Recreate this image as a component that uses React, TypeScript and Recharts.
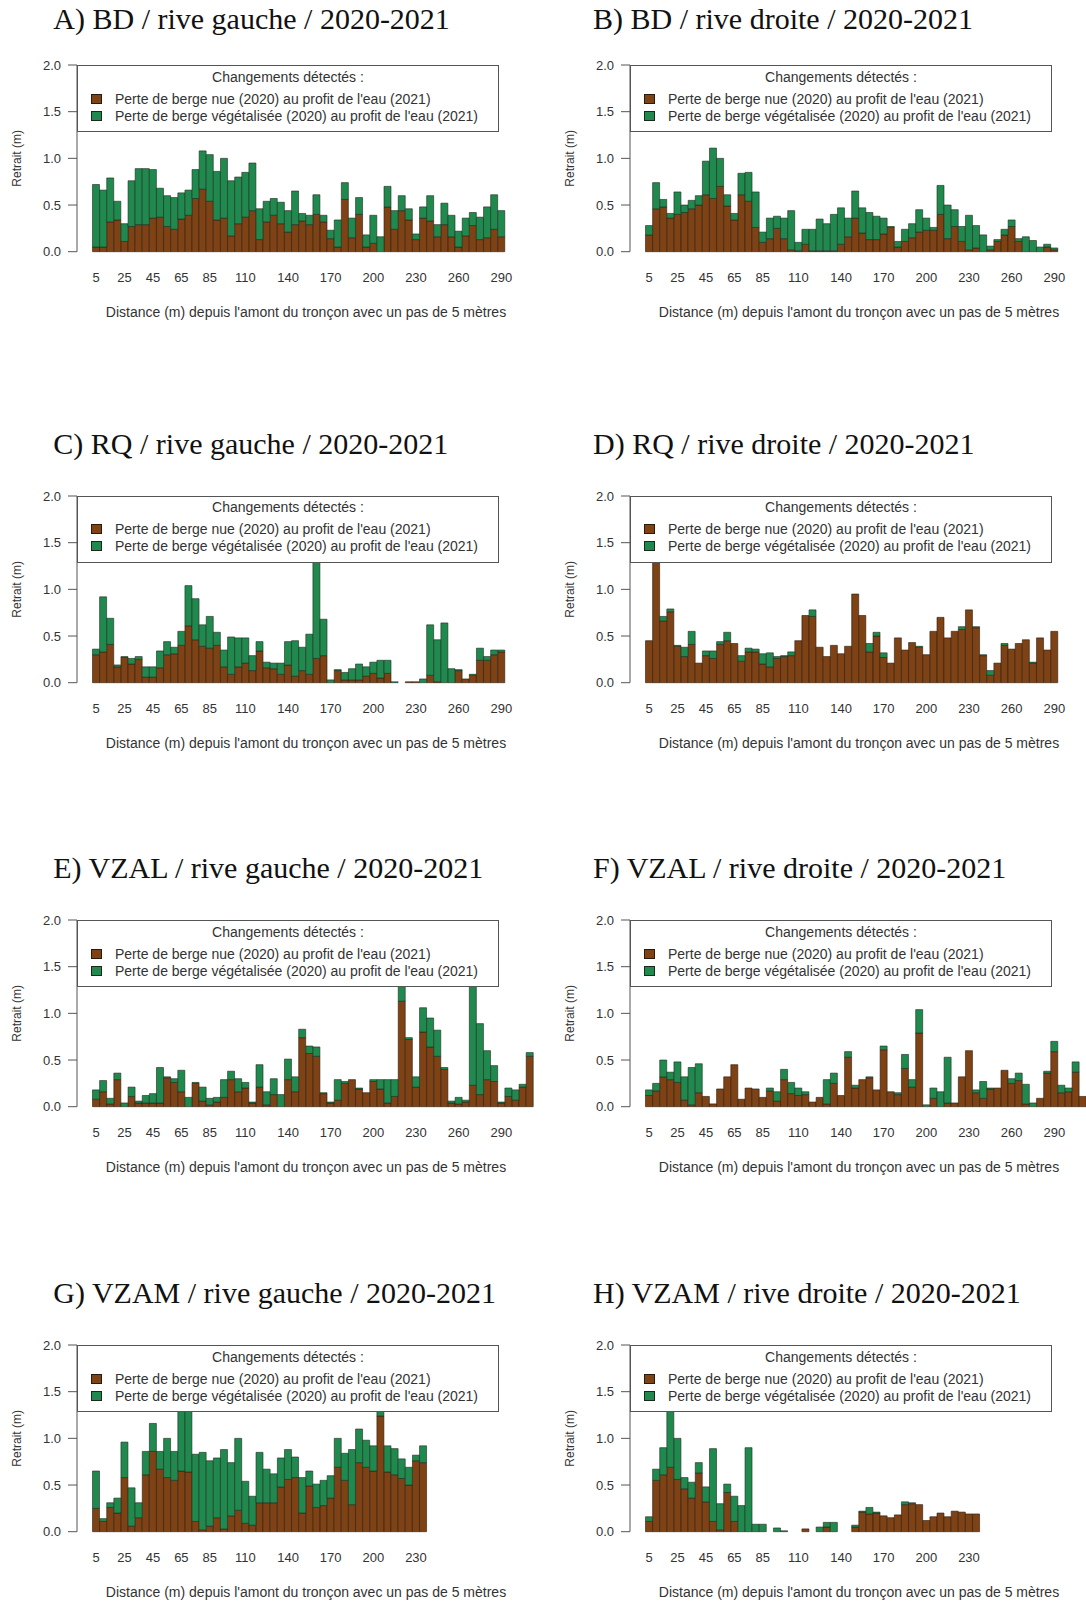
import React from 'react';
import { BarChart, Bar, XAxis, YAxis, Legend, Label } from 'recharts';

// Distance categories (m), step 5
const DIST = [5, 10, 15, 20, 25, 30, 35, 40, 45, 50, 55, 60, 65, 70, 75, 80, 85, 90, 95, 100,
  105, 110, 115, 120, 125, 130, 135, 140, 145, 150, 155, 160, 165, 170, 175, 180, 185, 190, 195, 200,
  205, 210, 215, 220, 225, 230, 235, 240, 245, 250, 255, 260, 265, 270, 275, 280, 285, 290, 295, 300,
  305, 310];

const TICKS_290 = [5, 25, 45, 65, 85, 110, 140, 170, 200, 230, 260, 290];
const TICKS_230 = [5, 25, 45, 65, 85, 110, 140, 170, 200, 230];
const Y_TICKS = [0, 0.5, 1, 1.5, 2];

// A) BD rive gauche
const A_NUE = [.05, .05, .32, .34, .11, .27, .29, .29, .36, .37, .27, .24, .35, .39, .57, .67, .54, .34, .36, .17, .30, .37, .44, .13, .32, .39, .30, .21, .29, .33, .29, .40, .32, .14, .05, .56, .15, .40, .05, .09, 0, .48, .24, .44, .34, .13, .36, .33, .16, .29, .16, .05, .17, .28, .13, .15, .24, .16];
const A_VEG = [.67, .61, .47, .20, .19, .49, .60, .60, .52, .31, .33, .34, .28, .27, .31, .41, .50, .52, .64, .59, .50, .48, .51, .33, .22, .18, .23, .23, .36, .08, .10, .21, .07, .09, .29, .18, .21, .18, .13, .30, .16, .22, .20, .16, .12, .06, .12, .27, .13, .23, .23, .17, .19, .14, .24, .33, .37, .28];
// B) BD rive droite
const B_NUE = [.18, .46, .48, .36, .40, .42, .46, .50, .61, .57, .70, .49, .34, .61, .54, .26, .10, .14, .25, .14, .02, .01, .08, .01, .01, .01, .01, .08, .16, .36, .20, .13, .13, .19, .26, .05, .11, .15, .21, .23, .23, .40, .14, .27, .11, .02, .04, 0, .02, .11, .18, .27, .11, 0, 0, 0, .05, .02];
const B_VEG = [.10, .28, .08, .05, .24, .08, .09, .10, .36, .54, .30, .12, .07, .23, .31, .38, .11, .22, .13, .22, .42, .09, .16, .23, .34, .29, .39, .39, .20, .29, .27, .29, .25, .17, .01, .06, .13, .15, .24, .13, .03, .31, .36, .18, .16, .37, .24, .18, .04, .02, .06, .07, .03, .16, .12, .05, .03, .02];
// C) RQ rive gauche
const C_NUE = [.30, .33, .41, .17, .27, .20, .25, .06, .06, .16, .30, .31, .40, .61, .46, .39, .37, .40, .17, .09, .17, .21, .13, .34, .16, .15, .09, .19, .07, .13, .09, .26, .29, 0, .13, .03, .03, .03, .07, .10, .05, .10, 0, 0, .01, .01, 0, .08, .01, 0, 0, .13, .04, .08, .24, .24, .30, .33];
const C_VEG = [.06, .59, .28, .02, .01, .06, .03, .11, .11, .18, .14, .07, .15, .43, .44, .23, .34, .14, .18, .40, .31, .27, .16, .10, .06, .06, .12, .25, .38, .25, .43, 1.34, .39, .03, .01, .08, .12, .17, .10, .12, .19, .14, .01, 0, 0, 0, .04, .54, .45, .64, .15, .01, 0, .01, .13, .04, .05, .02];
// D) RQ rive droite
const D_NUE = [.45, 1.55, .66, .76, .39, .28, .41, .21, .29, .26, .41, .45, .42, .23, .33, .33, .20, .17, .26, .28, .29, .45, .72, .71, .38, .28, .40, .31, .39, .95, .72, .33, .50, .27, .21, .48, .35, .43, .38, .30, .55, .70, .48, .55, .57, .78, .59, .29, .08, .21, .40, .36, .42, .46, .21, .48, .35, .55];
const D_VEG = [0, 0, .05, .03, .01, .10, .14, 0, .05, .08, .03, .09, 0, .06, .04, .03, .11, .15, .02, .01, .04, 0, 0, .07, 0, 0, 0, 0, 0, 0, 0, .09, .04, .05, 0, 0, 0, 0, .01, 0, 0, 0, 0, 0, .03, 0, .01, .01, .05, 0, .02, 0, 0, 0, .01, 0, 0, 0];
// E) VZAL rive gauche
const E_NUE = [.08, .16, .03, .29, 0, .11, .04, .04, .04, .04, .31, .26, .16, 0, .25, .06, .02, .05, .10, .29, .16, .20, .04, .21, .02, .13, 0, .29, .16, .74, .57, .54, .14, .04, .07, .25, .29, .19, .15, .27, .19, .04, .11, 1.13, .72, .21, .80, .64, .54, .40, .04, .03, .05, .23, .13, .29, .27, .04, .11, .07, .21, .54];
const E_VEG = [.10, .12, .06, .07, .04, .10, .02, .08, .10, .38, .01, .04, .23, .10, .01, .15, .07, .05, .19, .09, .14, .06, .01, .24, .14, .17, .13, .22, .16, .09, .08, .10, .01, .01, .22, .02, 0, .01, 0, .02, .10, .25, .18, .22, .02, .11, .26, .31, .28, .02, .02, .07, .02, 1.27, .76, .31, .17, .01, .09, .11, .03, .04];
// F) VZAL rive droite
const F_NUE = [.12, .17, .32, .29, .26, .07, .02, .15, .11, .03, .19, .32, .45, .08, .20, .19, .10, .17, .06, .29, .14, .12, .13, .05, .10, .03, .25, .12, .53, .20, .29, .31, .18, .61, .16, .13, .41, .21, .79, 0, .09, 0, .04, .04, .32, .60, .15, .09, .19, .20, .39, .25, .28, .03, 0, .09, .36, .59, .15, .16, .37, .11];
const F_VEG = [.06, .08, .18, .08, .22, .25, .40, .31, 0, 0, 0, 0, 0, 0, 0, 0, 0, .03, .10, .11, .12, .08, .03, 0, 0, .26, .11, 0, .06, .03, 0, .01, 0, .04, 0, .02, .15, .08, .25, .02, .11, .16, .49, 0, 0, 0, .03, .18, .01, 0, 0, .05, .08, .21, .04, 0, .02, .11, .08, .04, .11, 0];
// G) VZAM rive gauche
const G_NUE = [.25, .11, .26, .20, .58, .06, .15, .61, .86, .67, .58, .55, .65, .64, .11, .02, .06, .15, .03, .17, .23, .09, .07, .31, .31, .31, .48, .56, .58, .20, .49, .26, .28, .36, .69, .55, .29, .74, .69, .65, 1.24, .64, .61, .57, .50, .76, .74];
const G_VEG = [.40, .03, .05, .16, .38, .41, .16, .25, .30, .19, .42, .31, .80, .86, .72, .83, .70, .64, .85, .57, .77, .45, .31, .54, .36, .31, .31, .32, .22, .38, .16, .25, .27, .24, .31, .29, .59, .36, .29, .27, .11, .28, .28, .21, .19, .06, .18];
// H) VZAM rive droite
const H_NUE = [.11, .55, .61, .69, .56, .46, .36, .63, .32, .11, .02, .42, .11, 0, 0, 0, 0, 0, 0, 0, 0, 0, .03, 0, 0, .05, 0, 0, 0, .05, .21, .19, .20, .17, .15, .18, .29, .30, .29, .12, .16, .20, .16, .22, .21, .19, .19];
const H_VEG = [.05, .12, .29, .71, .44, .12, .17, .11, .16, .78, .28, .09, .27, .28, .90, .08, .08, 0, .04, .01, 0, 0, 0, 0, .05, .05, .10, 0, 0, .02, .01, .07, .01, 0, 0, 0, .03, .01, 0, 0, 0, 0, 0, 0, 0, 0, 0];

const TITLES = [
  'A) BD / rive gauche / 2020-2021', 'B) BD / rive droite / 2020-2021',
  'C) RQ / rive gauche / 2020-2021', 'D) RQ / rive droite / 2020-2021',
  'E) VZAL / rive gauche / 2020-2021', 'F) VZAL / rive droite / 2020-2021',
  'G) VZAM / rive gauche / 2020-2021', 'H) VZAM / rive droite / 2020-2021',
];

const LEGEND_TITLE = 'Changements détectés :';
const LEGEND_NUE = "Perte de berge nue (2020) au profit de l'eau (2021)";
const LEGEND_VEG = "Perte de berge végétalisée (2020) au profit de l'eau (2021)";
const Y_LABEL = 'Retrait (m)';
const X_LABEL = "Distance (m) depuis l'amont du tronçon avec un pas de 5 mètres";

const BROWN = '#7e4215';
const GREEN = '#208a4e';
const SANS = '"Liberation Sans", Arial, sans-serif';
const SERIF = '"Liberation Serif", "Times New Roman", serif';

// layout
const COL_X = [0, 553];
const ROW_Y = [0, 430.6, 855.3, 1280];
const TITLE_BASE = [28.8, 454.2, 878.6, 1303];
const TITLE_X = [53.3, 593];
const CHART_W = 535;
const CHART_H = 330;
const AXIS_X = 77;
const PLOT_TOP = 65;
const PLOT_BOTTOM = 251.7;
const X_AXIS_H = 40;
const PLOT_W = CHART_W - AXIS_X;
const PAD_L = 15.5;
const BAR_W = 7.11;
const TITLE_FS = 30;

const PANELS = [
  { nue: A_NUE, veg: A_VEG, ticks: TICKS_290 },
  { nue: B_NUE, veg: B_VEG, ticks: TICKS_290 },
  { nue: C_NUE, veg: C_VEG, ticks: TICKS_290 },
  { nue: D_NUE, veg: D_VEG, ticks: TICKS_290 },
  { nue: E_NUE, veg: E_VEG, ticks: TICKS_290 },
  { nue: F_NUE, veg: F_VEG, ticks: TICKS_290 },
  { nue: G_NUE, veg: G_VEG, ticks: TICKS_230 },
  { nue: H_NUE, veg: H_VEG, ticks: TICKS_230 },
];

const LegendBox = () => (
  <div style={{
    boxSizing: 'border-box', width: 422, height: 67, border: '1px solid #555', background: '#fff',
    position: 'relative', fontFamily: SANS, fontSize: 14, color: '#333', lineHeight: '17px', whiteSpace: 'nowrap',
  }}>
    <div style={{ position: 'absolute', left: 0, right: 0, top: 2.5, textAlign: 'center' }}>{LEGEND_TITLE}</div>
    <div style={{ position: 'absolute', left: 12.5, top: 27.5, width: 11, height: 10, background: BROWN, boxSizing: 'border-box', border: '1px solid #2a1a0c' }} />
    <div style={{ position: 'absolute', left: 37, top: 24.5 }}>{LEGEND_NUE}</div>
    <div style={{ position: 'absolute', left: 12.5, top: 44.5, width: 11, height: 10, background: GREEN, boxSizing: 'border-box', border: '1px solid #1a2a1a' }} />
    <div style={{ position: 'absolute', left: 37, top: 41.5 }}>{LEGEND_VEG}</div>
  </div>
);

function PanelChart({ idx }: { idx: number }) {
  const p = PANELS[idx];
  const col = idx % 2;
  const row = Math.floor(idx / 2);
  const n = p.nue.length;
  const data = p.nue.map((v, i) => ({ d: DIST[i], nue: v, veg: p.veg[i] }));
  const padR = PLOT_W - PAD_L - n * BAR_W;
  const renderTick = (props: any) => {
    const { x, y, payload } = props;
    if (!p.ticks.includes(payload.value)) return <g />;
    return (
      <text x={x} y={y} dy={30.5} textAnchor="middle" fontSize={13} fill="#333" fontFamily={SANS}>
        {payload.value}
      </text>
    );
  };
  const renderXTitle = () => (
    <text x={AXIS_X + PLOT_W / 2} y={311.7} dominantBaseline="central" textAnchor="middle" fontSize={14} fill="#333" fontFamily={SANS}>
      {X_LABEL}
    </text>
  );
  const renderYTitle = () => {
    const cy = (PLOT_TOP + PLOT_BOTTOM) / 2;
    return (
      <text x={17} y={cy} transform={`rotate(-90, 17, ${cy})`} dominantBaseline="central" textAnchor="middle" fontSize={12} fill="#333" fontFamily={SANS}>
        {Y_LABEL}
      </text>
    );
  };
  return (
    <>
      <div style={{
        position: 'absolute', left: TITLE_X[col], top: TITLE_BASE[row] - 0.8375 * TITLE_FS,
        fontFamily: SERIF, fontSize: TITLE_FS, lineHeight: 1, whiteSpace: 'nowrap', color: '#111',
      }}>
        {TITLES[idx]}
      </div>
      <div style={{ position: 'absolute', left: COL_X[col], top: ROW_Y[row], width: CHART_W, height: CHART_H }}>
        <BarChart
          width={CHART_W}
          height={CHART_H}
          data={data}
          margin={{ top: PLOT_TOP, right: 0, bottom: CHART_H - PLOT_BOTTOM - X_AXIS_H, left: 0 }}
          barCategoryGap={0}
          barGap={0}
          style={{ fontFamily: SANS }}
        >
          <XAxis
            dataKey="d"
            type="category"
            interval={0}
            axisLine={false}
            tickLine={false}
            tickSize={0}
            tickMargin={0}
            height={X_AXIS_H}
            padding={{ left: PAD_L, right: padR }}
            tick={renderTick}
          >
            <Label content={renderXTitle} />
          </XAxis>
          <YAxis
            type="number"
            domain={[0, 2]}
            ticks={Y_TICKS}
            interval={0}
            width={AXIS_X}
            tickSize={9}
            tickMargin={7}
            axisLine={{ stroke: '#555' }}
            tickLine={{ stroke: '#555' }}
            tick={{ fontSize: 13, fill: '#333', fontFamily: SANS }}
            tickFormatter={(v: number) => v.toFixed(1)}
          >
            <Label content={renderYTitle} />
          </YAxis>
          <Legend
            layout="horizontal"
            verticalAlign="middle"
            align="center"
            content={LegendBox}
            wrapperStyle={{ left: AXIS_X, top: PLOT_TOP, width: 422, height: 67 }}
          />
          <Bar dataKey="nue" stackId="s" fill={BROWN} stroke="#2a1a0c" strokeWidth={0.6} isAnimationActive={false} />
          <Bar dataKey="veg" stackId="s" fill={GREEN} stroke="#1c2a1e" strokeWidth={0.6} isAnimationActive={false} />
        </BarChart>
      </div>
    </>
  );
}

export default function App() {
  return (
    <div style={{ position: 'absolute', left: 0, top: 0, width: 1086, height: 1603, overflow: 'hidden', background: '#fff' }}>
      {PANELS.map((_, i) => <PanelChart key={i} idx={i} />)}
    </div>
  );
}
